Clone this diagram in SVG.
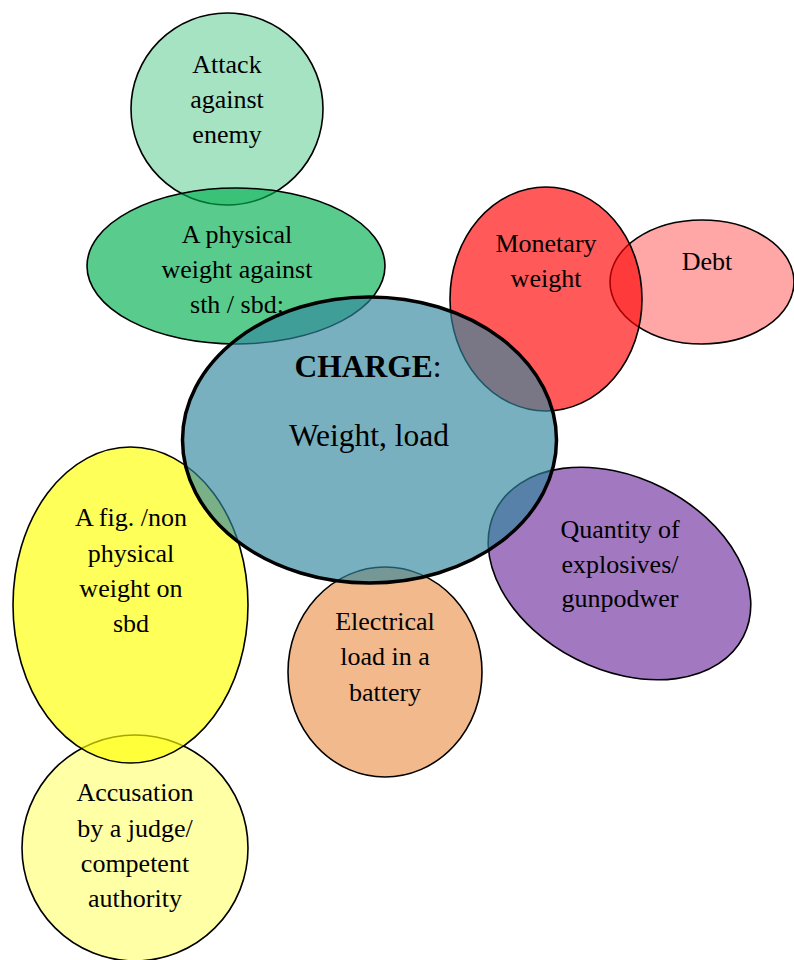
<svg xmlns="http://www.w3.org/2000/svg" width="794" height="960" viewBox="0 0 794 960">
<style>
text{font-family:"Liberation Serif","Times New Roman",serif;font-size:26px;fill:#000;text-anchor:middle}
.n{stroke:#000;stroke-width:1.6}
.light{fill-opacity:0.35}
.dark{fill-opacity:0.65}
.green{fill:#00B050}
.red{fill:#FF0000}
.yellow{fill:#FFFF00}
.purple{fill:#7030A0}
.orange{fill:#EB9450}
.teal{fill:#31859C}
.big{font-size:31.5px}
</style>
<rect width="794" height="960" fill="#fff"/>
<g id="connectors"/>
<g id="attack">
<ellipse class="n green light" cx="227" cy="109" rx="96" ry="96"/>
<text x="227" y="73">Attack</text>
<text x="227" y="108">against</text>
<text x="227" y="143">enemy</text>
</g>
<g id="physical">
<ellipse class="n green dark" cx="236" cy="266" rx="149" ry="78"/>
<text x="237" y="243">A physical</text>
<text x="237" y="278">weight against</text>
<text x="237" y="313">sth / sbd:</text>
</g>
<g id="accusation">
<ellipse class="n yellow light" cx="135" cy="848" rx="113" ry="113"/>
<text x="135" y="801">Accusation</text>
<text x="135" y="837">by a judge/</text>
<text x="135" y="872">competent</text>
<text x="135" y="907">authority</text>
</g>
<g id="figurative">
<ellipse class="n yellow dark" cx="130.5" cy="605" rx="117.5" ry="158"/>
<text x="131" y="526">A fig. /non</text>
<text x="131" y="562">physical</text>
<text x="131" y="597">weight on</text>
<text x="131" y="632">sbd</text>
</g>
<g id="debt">
<ellipse class="n red light" cx="702" cy="282" rx="92" ry="62"/>
<text x="707" y="270">Debt</text>
</g>
<g id="monetary">
<ellipse class="n red dark" cx="546" cy="299" rx="96" ry="112"/>
<text x="546" y="252">Monetary</text>
<text x="546" y="287">weight</text>
</g>
<g id="explosives">
<ellipse class="n purple dark" cx="619.5" cy="573.5" rx="139" ry="96" transform="rotate(27 619.5 573.5)"/>
<text x="620" y="538">Quantity of</text>
<text x="620" y="573">explosives/</text>
<text x="620" y="607">gunpodwer</text>
</g>
<g id="electrical">
<ellipse class="n orange dark" cx="385" cy="672" rx="97" ry="105"/>
<text x="385" y="630">Electrical</text>
<text x="385" y="665">load in a</text>
<text x="385" y="701">battery</text>
</g>
<g id="charge">
<ellipse class="teal dark" cx="369.5" cy="440" rx="187" ry="143" stroke="#000" stroke-width="3.5"/>
<text class="big" x="368" y="377"><tspan font-weight="bold">CHARGE</tspan>:</text>
<text class="big" x="369" y="446">Weight, load</text>
</g>
</svg>
